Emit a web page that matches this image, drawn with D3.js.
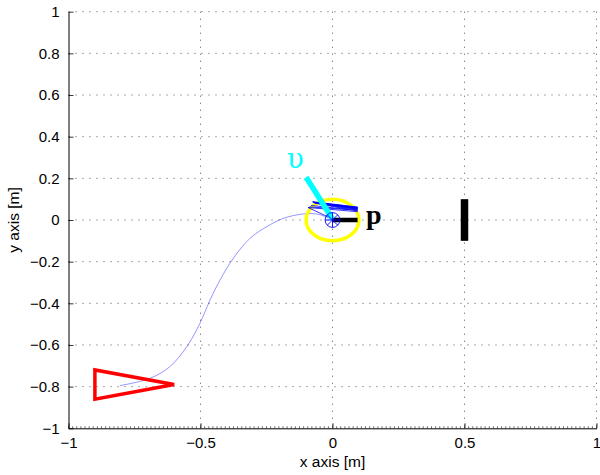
<!DOCTYPE html>
<html>
<head>
<meta charset="utf-8">
<script src="https://cdn.jsdelivr.net/npm/d3@7/dist/d3.min.js"></script>
<style>
  html, body { margin: 0; padding: 0; background: #fff; }
  svg { display: block; }
  .tick text { font-family: "Liberation Sans", Arial, sans-serif; }
</style>
</head>
<body>
<script>
// Axis ticks
const xTicks = [-1, -0.5, 0, 0.5, 1];
const yTicks = [-1, -0.8, -0.6, -0.4, -0.2, 0, 0.2, 0.4, 0.6, 0.8, 1];

// Travelled path of the robot, from start pose to current pose
const pathX = [-0.805, -0.691, -0.616, -0.552, -0.502, -0.464, -0.426, -0.376, -0.3125, -0.249, -0.186, -0.111, -0.060, -0.03, 0.0];
const pathY = [-0.795, -0.760, -0.704, -0.608, -0.496, -0.384, -0.288, -0.184, -0.088, -0.032, 0.008, 0.029, 0.029, 0.018, 0.0];

// Start pose marker (triangle)
const triX = [-0.9, -0.9, -0.6];
const triY = [-0.72, -0.86, -0.79];

// Goal marker (vertical bar)
const goalX = [0.5, 0.5];
const goalY = [-0.1, 0.1];

// Robot pose and body
const robotX = 0.0, robotY = 0.0;
const bodyRadius = 0.1;
const wheelRadius = 0.028;
const spokeAngles = [0, 45, 90, 135, 180, 225, 270, 315];

// Velocity vector (cyan) and heading vector p (black)
const velX = [0.0, -0.1];
const velY = [0.005, 0.205];
const headX = [0.0, 0.095];
const headY = [0.0, 0.0];

// Heading history rays [x1, y1, x2, y2]
const rays = [
  [-0.074, 0.086, 0.095, 0.058],
  [-0.072, 0.085, 0.095, 0.052],
  [-0.070, 0.083, 0.095, 0.047],
  [-0.068, 0.081, 0.095, 0.043],
  [-0.076, 0.087, 0.095, 0.062],
  [-0.093, 0.060, 0.095, 0.040],
  [-0.093, 0.060, -0.005, 0.008],
  [-0.088, 0.063, 0.060, 0.050],
  [-0.082, 0.070, 0.095, 0.046]
];
const wedgeX = [-0.075, 0.095, 0.095, -0.066];
const wedgeY = [0.088, 0.062, 0.050, 0.082];

const W = 600, H = 475;
const svg = d3.select("body").append("svg").attr("width", W).attr("height", H);

const x = d3.scaleLinear().domain([-1, 1]).range([68.5, 596.5]);
const y = d3.scaleLinear().domain([-1, 1]).range([428.3, 11.7]);
const fmt = d3.format("~g");

// Dotted grid
const grid = svg.append("g").attr("stroke", "#555").attr("stroke-width", 1).attr("stroke-dasharray", "1,6");
grid.selectAll("line.gx").data(xTicks.slice(1)).join("line")
  .attr("x1", d => x(d)).attr("x2", d => x(d))
  .attr("y1", y(1)).attr("y2", y(-1));
grid.selectAll("line.gy").data(yTicks.slice(1)).join("line")
  .attr("x1", x(-1)).attr("x2", x(1))
  .attr("y1", d => y(d)).attr("y2", d => y(d));

// Minor ticks along the x axis
const minor = d3.range(-1, 1.0001, 1 / 64);
svg.append("g").selectAll("line").data(minor).join("line")
  .attr("x1", d => x(d)).attr("x2", d => x(d))
  .attr("y1", y(-1)).attr("y2", y(-1) - 2)
  .attr("stroke", "#000").attr("stroke-width", 0.6);

// Axes
const xAxis = svg.append("g").attr("transform", `translate(0,${y(-1)})`)
  .call(d3.axisBottom(x).tickValues(xTicks).tickFormat(fmt).tickSizeInner(-5).tickSizeOuter(0).tickPadding(9));
const yAxis = svg.append("g").attr("transform", `translate(${x(-1)},0)`)
  .call(d3.axisLeft(y).tickValues(yTicks).tickFormat(fmt).tickSizeInner(-5).tickSizeOuter(0).tickPadding(9));
[xAxis, yAxis].forEach(a => {
  a.selectAll(".domain").attr("stroke", "#000").attr("stroke-width", 1);
  a.selectAll(".tick line").attr("stroke", "#000").attr("stroke-width", 0.8);
  a.selectAll(".tick text").attr("font-size", 15).attr("fill", "#000");
});

// Axis titles
svg.append("text").attr("x", x(0)).attr("y", 467)
  .attr("text-anchor", "middle").attr("font-family", "Liberation Sans, Arial, sans-serif")
  .attr("font-size", 15.5).text("x axis [m]");
svg.append("text").attr("transform", `translate(18.5,${y(0)}) rotate(-90)`)
  .attr("text-anchor", "middle").attr("font-family", "Liberation Sans, Arial, sans-serif")
  .attr("font-size", 15.5).text("y axis [m]");

// Travelled path
const line = d3.line().x(d => x(d[0])).y(d => y(d[1])).curve(d3.curveCatmullRom);
svg.append("path").datum(pathX.map((v, i) => [v, pathY[i]]))
  .attr("d", line).attr("fill", "none").attr("stroke", "#0000ff")
  .attr("stroke-width", 0.6).attr("stroke-opacity", 0.7);

// Start triangle
svg.append("path")
  .attr("d", d3.line().x(d => x(d[0])).y(d => y(d[1]))(triX.map((v, i) => [v, triY[i]])) + "Z")
  .attr("fill", "none").attr("stroke", "#ff0000").attr("stroke-width", 3.5).attr("stroke-linejoin", "miter");

// Goal bar
svg.append("line")
  .attr("x1", x(goalX[0])).attr("x2", x(goalX[1]))
  .attr("y1", y(goalY[0])).attr("y2", y(goalY[1]))
  .attr("stroke", "#000").attr("stroke-width", 7.5);

// Robot body outline
svg.append("ellipse")
  .attr("cx", x(robotX)).attr("cy", y(robotY))
  .attr("rx", x(robotX + bodyRadius) - x(robotX))
  .attr("ry", y(robotY) - y(robotY + bodyRadius))
  .attr("fill", "none").attr("stroke", "#ffff00").attr("stroke-width", 3.5);

// Heading history
svg.append("polygon")
  .attr("points", wedgeX.map((v, i) => `${x(v)},${y(wedgeY[i])}`).join(" "))
  .attr("fill", "#0000ff").attr("stroke", "#0000ff").attr("stroke-width", 0.5);
svg.append("g").selectAll("line").data(rays).join("line")
  .attr("x1", d => x(d[0])).attr("y1", d => y(d[1]))
  .attr("x2", d => x(d[2])).attr("y2", d => y(d[3]))
  .attr("stroke", "#0000ff").attr("stroke-width", 0.8);

// Heading vector p
svg.append("line")
  .attr("x1", x(headX[0])).attr("x2", x(headX[1]))
  .attr("y1", y(headY[0])).attr("y2", y(headY[1]))
  .attr("stroke", "#000").attr("stroke-width", 4.5);

// Velocity vector
svg.append("line")
  .attr("x1", x(velX[0])).attr("x2", x(velX[1]))
  .attr("y1", y(velY[0])).attr("y2", y(velY[1]))
  .attr("stroke", "#00ffff").attr("stroke-width", 5.5);

// Wheel with spokes
const wr = x(wheelRadius) - x(0);
const wheel = svg.append("g").attr("stroke", "#0000ff").attr("stroke-width", 0.9).attr("fill", "none");
wheel.append("circle").attr("cx", x(robotX)).attr("cy", y(robotY)).attr("r", wr);
wheel.selectAll("line").data(spokeAngles).join("line")
  .attr("x1", x(robotX)).attr("y1", y(robotY))
  .attr("x2", d => x(robotX) + wr * Math.cos(d * Math.PI / 180))
  .attr("y2", d => y(robotY) - wr * Math.sin(d * Math.PI / 180));

// Labels
svg.append("text").attr("x", x(-0.141)).attr("y", 167.5)
  .attr("text-anchor", "middle").attr("font-family", "DejaVu Serif, serif")
  .attr("font-size", 28).attr("fill", "#00ffff").text("υ");
svg.append("text").attr("x", 366).attr("y", 224)
  .attr("font-family", "Liberation Serif, Times New Roman, serif").attr("font-weight", "bold")
  .attr("font-size", 28).attr("fill", "#000").text("p");
</script>
</body>
</html>
